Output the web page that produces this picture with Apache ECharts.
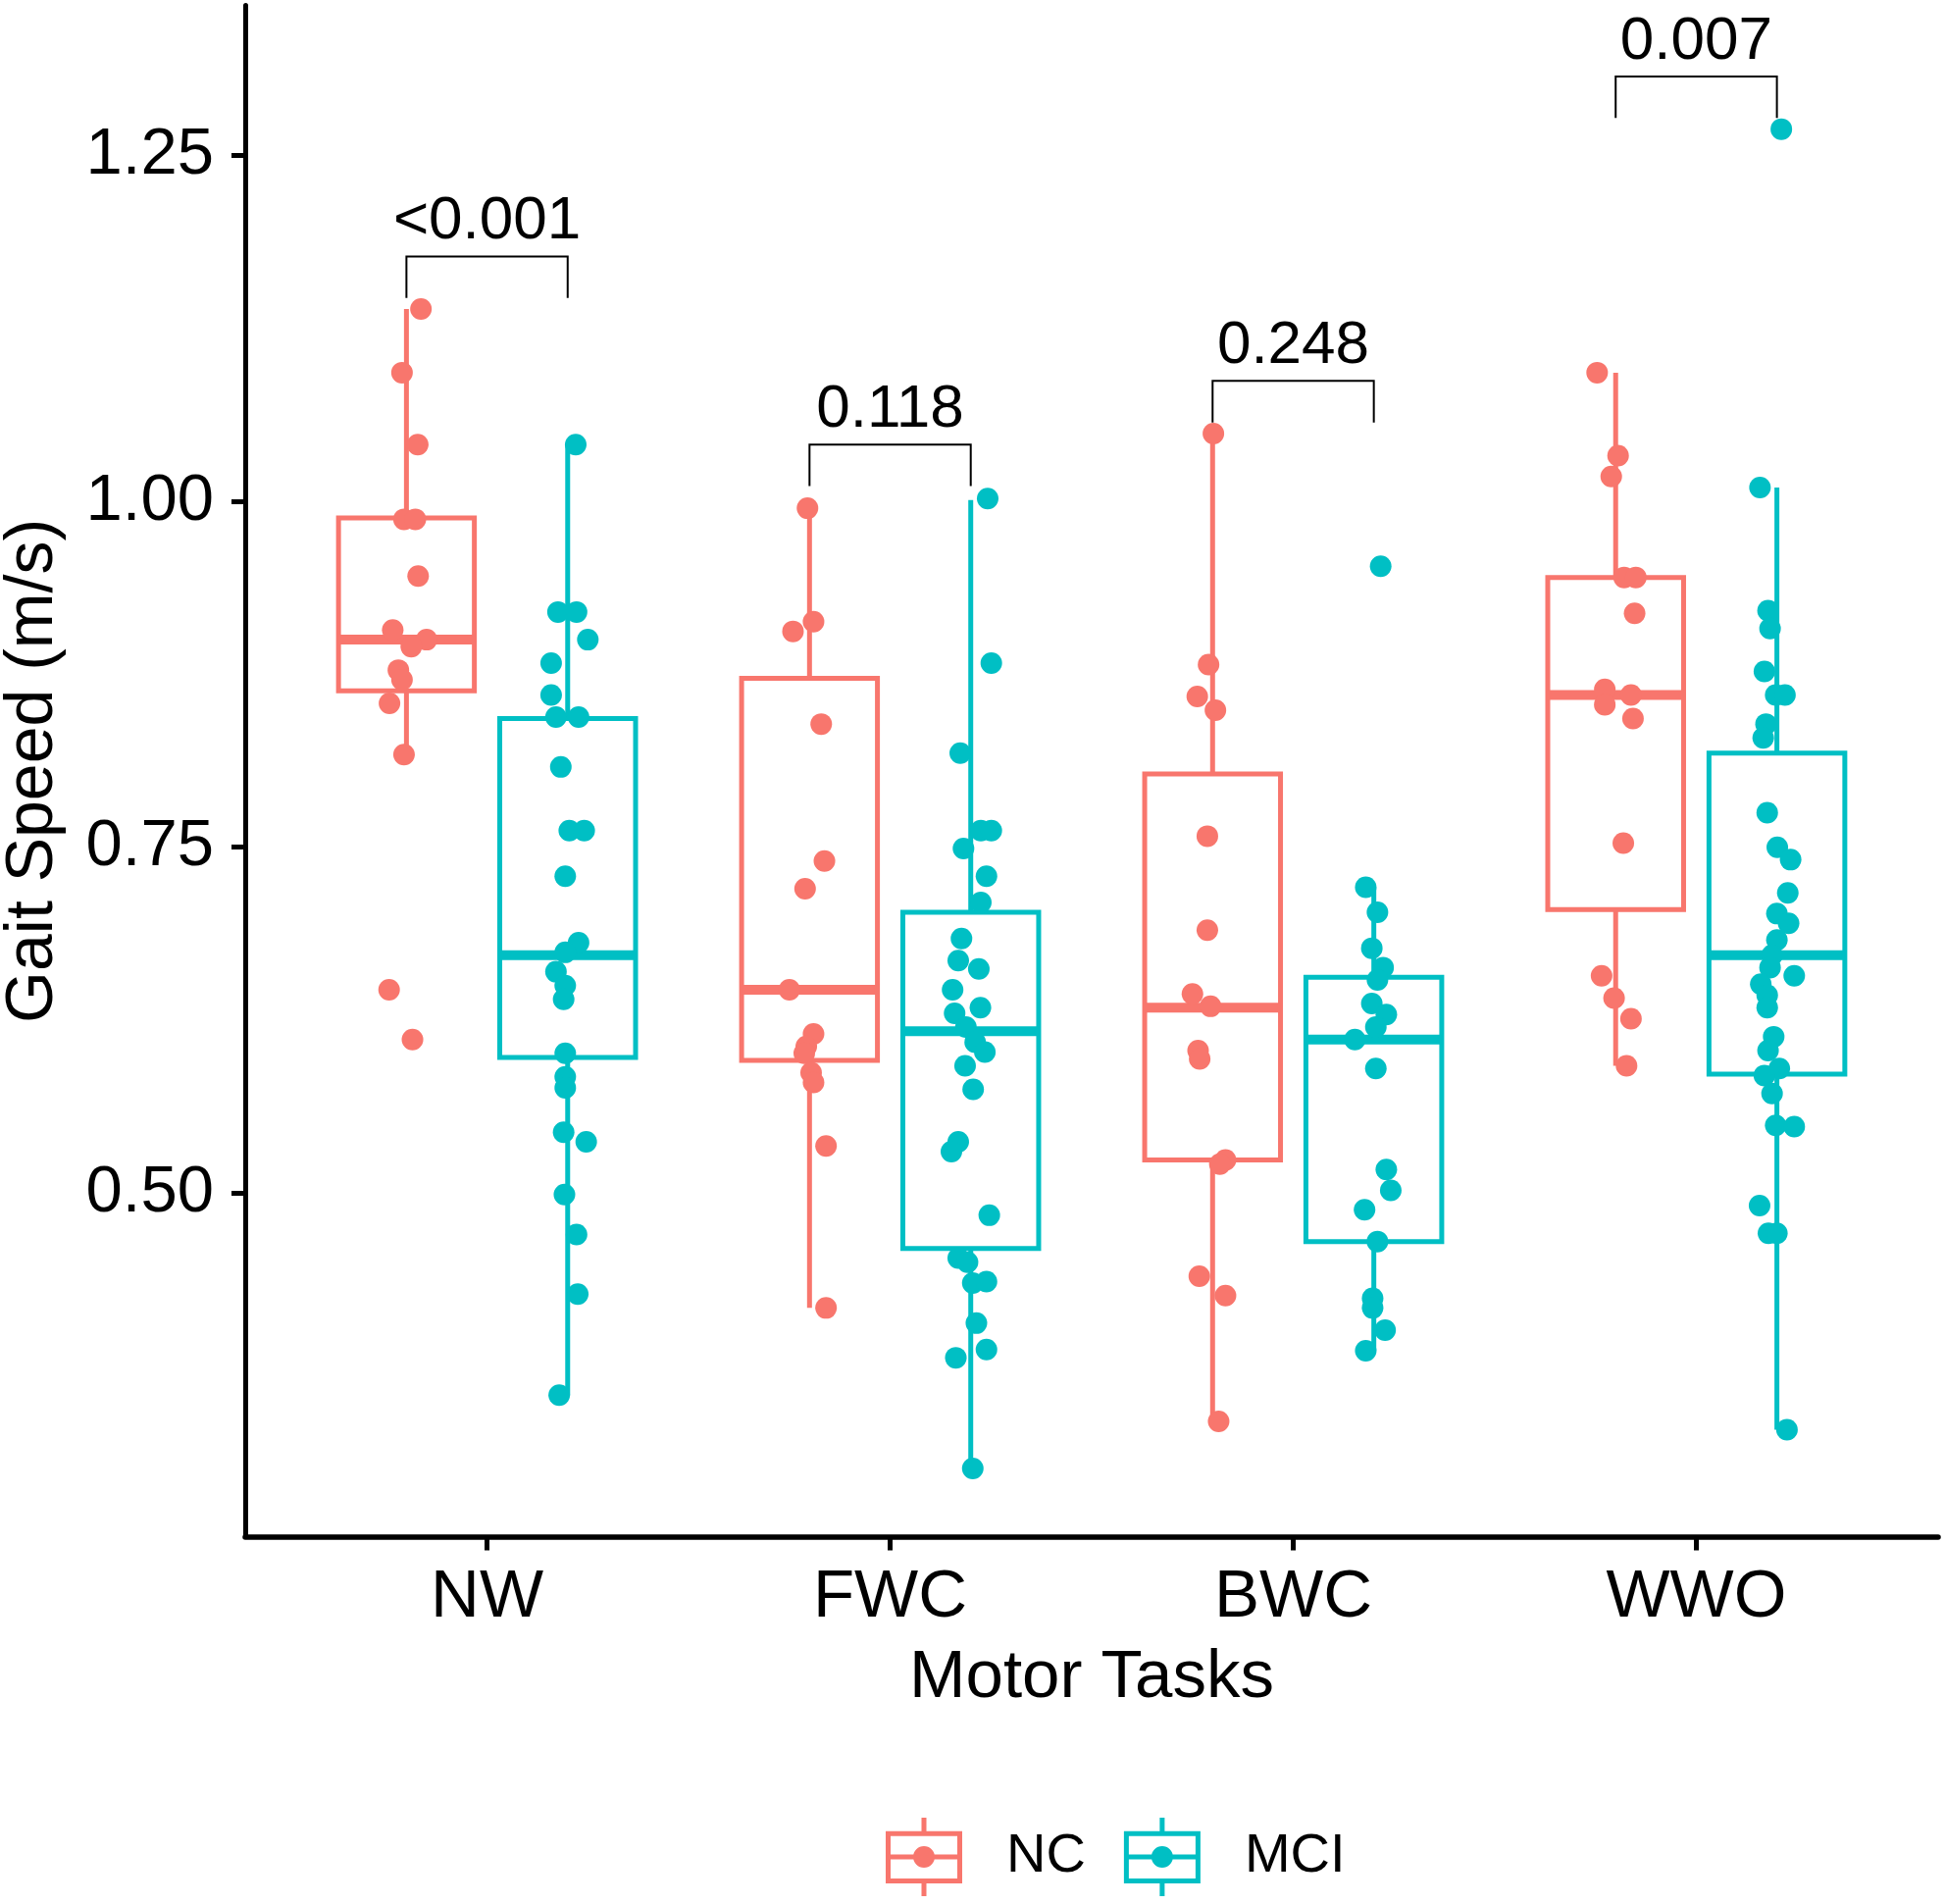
<!DOCTYPE html>
<html>
<head>
<meta charset="utf-8">
<title>Gait Speed by Motor Task</title>
<script src="https://cdn.jsdelivr.net/npm/echarts@6/dist/echarts.min.js"></script>
<style>
  html, body { margin: 0; padding: 0; background: #fff; }
  #main { width: 1983px; height: 1941px; }
</style>
</head>
<body>
<div id="main"></div>
<script>
// ---- data ----
const categories = ['NW', 'FWC', 'BWC', 'WWO'];
const groups = ['NC', 'MCI'];
const yTicks = [0.50, 0.75, 1.00, 1.25];

// box stats per task: [lower whisker, Q1, median, Q3, upper whisker]
const ncBoxes = [
  [0.817, 0.863, 0.900, 0.988, 1.139],
  [0.417, 0.596, 0.647, 0.872, 0.995],
  [0.335, 0.524, 0.634, 0.803, 1.049],
  [0.592, 0.705, 0.860, 0.945, 1.093]
];
const mciBoxes = [
  [0.354, 0.598, 0.672, 0.843, 1.042],
  [0.301, 0.460, 0.617, 0.703, 1.001],
  [0.386, 0.465, 0.611, 0.656, 0.721],
  [0.329, 0.586, 0.672, 0.818, 1.010]
];

// jittered points: [horizontal jitter, gait speed]
const ncNW = [[0.036,1.139],[-0.011,1.093],[0.028,1.041],[-0.006,0.987],[0.022,0.987],[0.029,0.946],[-0.034,0.907],[0.050,0.900],[0.012,0.895],[-0.020,0.878],[-0.011,0.871],[-0.042,0.854],[-0.006,0.817],[-0.043,0.647],[0.015,0.611]];
const mciNW = [[0.020,1.041],[-0.024,0.920],[0.022,0.920],[0.050,0.900],[-0.041,0.883],[-0.041,0.860],[-0.029,0.844],[0.027,0.844],[-0.017,0.808],[0.004,0.762],[0.041,0.762],[-0.006,0.729],[0.027,0.681],[-0.006,0.674],[-0.029,0.660],[-0.006,0.650],[-0.010,0.640],[-0.006,0.601],[-0.006,0.584],[-0.006,0.576],[-0.010,0.544],[0.046,0.537],[-0.008,0.499],[0.022,0.470],[0.025,0.427],[-0.021,0.354]];
const ncFWC = [[-0.005,0.995],[-0.041,0.906],[0.010,0.913],[0.029,0.839],[0.037,0.740],[-0.011,0.720],[-0.050,0.647],[0.010,0.615],[-0.008,0.606],[-0.013,0.601],[0.004,0.587],[0.010,0.580],[0.041,0.534],[0.041,0.417]];
const mciFWC = [[0.042,1.002],[0.051,0.883],[-0.026,0.818],[0.025,0.762],[0.051,0.762],[-0.018,0.749],[0.039,0.729],[0.025,0.710],[-0.023,0.684],[-0.031,0.668],[0.020,0.662],[-0.045,0.647],[0.024,0.634],[-0.040,0.630],[-0.012,0.620],[0.011,0.609],[0.035,0.602],[-0.014,0.592],[0.006,0.575],[-0.031,0.537],[-0.048,0.530],[0.046,0.484],[-0.031,0.453],[-0.008,0.450],[0.005,0.435],[0.039,0.436],[0.014,0.406],[-0.037,0.381],[0.039,0.387],[0.005,0.301]];
const ncBWC = [[0.002,1.049],[-0.010,0.882],[-0.038,0.859],[0.007,0.849],[-0.013,0.758],[-0.013,0.690],[-0.050,0.644],[-0.005,0.635],[-0.036,0.603],[-0.032,0.597],[0.032,0.524],[0.018,0.521],[-0.033,0.440],[0.032,0.426],[0.015,0.335]];
const mciBWC = [[0.017,0.953],[-0.020,0.721],[0.009,0.703],[-0.005,0.677],[0.023,0.663],[0.009,0.654],[-0.005,0.637],[0.031,0.629],[0.005,0.620],[-0.047,0.611],[0.005,0.590],[0.031,0.517],[0.042,0.502],[-0.023,0.488],[0.009,0.465],[-0.003,0.424],[-0.003,0.417],[0.028,0.401],[-0.020,0.386]];
const ncWWO = [[-0.046,1.093],[0.006,1.033],[-0.011,1.018],[0.021,0.945],[0.050,0.945],[0.047,0.919],[-0.027,0.864],[-0.027,0.853],[0.038,0.860],[0.043,0.843],[0.019,0.753],[-0.035,0.657],[-0.004,0.641],[0.038,0.626],[0.027,0.592]];
const mciWWO = [[0.011,1.269],[-0.042,1.010],[-0.022,0.921],[-0.017,0.908],[-0.031,0.877],[-0.003,0.860],[0.020,0.860],[-0.027,0.839],[-0.034,0.829],[-0.024,0.775],[0.001,0.750],[0.034,0.741],[0.027,0.717],[0.000,0.702],[0.029,0.695],[0.000,0.683],[-0.012,0.672],[0.043,0.657],[-0.017,0.663],[-0.040,0.651],[-0.024,0.643],[-0.024,0.634],[-0.008,0.613],[-0.022,0.603],[0.006,0.590],[-0.031,0.585],[-0.012,0.572],[-0.003,0.549],[0.043,0.548],[-0.043,0.491],[-0.021,0.471],[0.000,0.471],[0.025,0.329]];

// significance brackets
const pLabels = ['<0.001', '0.118', '0.248', '0.007'];
const bracketTop = [1.177, 1.041, 1.087, 1.307];
const bracketTip = [1.147, 1.011, 1.057, 1.277];

// ---- styling ----
const colors = { NC: '#F8766D', MCI: '#00BFC4' };
const dodge = { NC: -0.2, MCI: 0.2 };
const boxWidth = 0.337;
const font = '"Liberation Sans", Arial, sans-serif';

const legendIcon = 'path://M0,13.7L78,13.7L78,67L0,67Z M5,18.7L5,62L73,62L73,18.7Z ' +
  'M5,37.5L73,37.5L73,42.5L5,42.5Z M36.5,0L41.5,0L41.5,13.7L36.5,13.7Z ' +
  'M36.5,67L41.5,67L41.5,80L36.5,80Z M28,40A11,11,0,1,1,50,40A11,11,0,1,1,28,40Z';

function boxData(boxes, group) {
  return boxes.map((b, i) => [i + 1 + dodge[group]].concat(b));
}

function pointData(lists, group) {
  const out = [];
  lists.forEach((pts, i) => {
    pts.forEach(p => out.push([i + 1 + dodge[group] + p[0], p[1]]));
  });
  return out;
}

function renderBox(params, api) {
  const x = api.value(0);
  const lo = api.coord([x, api.value(1)]);
  const q1 = api.coord([x, api.value(2)]);
  const med = api.coord([x, api.value(3)]);
  const q3 = api.coord([x, api.value(4)]);
  const hi = api.coord([x, api.value(5)]);
  const half = api.size([boxWidth, 0])[0] / 2;
  const color = api.visual('color');
  const cx = q1[0];
  return {
    type: 'group',
    children: [
      { type: 'line', shape: { x1: cx, y1: q3[1], x2: cx, y2: hi[1] }, style: { stroke: color, lineWidth: 5 } },
      { type: 'line', shape: { x1: cx, y1: q1[1], x2: cx, y2: lo[1] }, style: { stroke: color, lineWidth: 5 } },
      { type: 'rect', shape: { x: cx - half, y: q3[1], width: half * 2, height: q1[1] - q3[1] },
        style: { fill: '#fff', stroke: color, lineWidth: 5 } },
      { type: 'line', shape: { x1: cx - half, y1: med[1], x2: cx + half, y2: med[1] },
        style: { stroke: color, lineWidth: 10 } }
    ]
  };
}

function renderBracket(params, api) {
  const x = api.value(0);
  const top = api.value(1), tip = api.value(2);
  const a = api.coord([x - 0.2, tip]);
  const b = api.coord([x - 0.2, top]);
  const c = api.coord([x + 0.2, top]);
  const d = api.coord([x + 0.2, tip]);
  return {
    type: 'group',
    children: [
      { type: 'polyline', shape: { points: [a, b, c, d] }, style: { stroke: '#000', lineWidth: 2, fill: null } },
      { type: 'text', x: (b[0] + c[0]) / 2, y: b[1] - 4,
        style: { text: pLabels[params.dataIndex], fontSize: 62, fontFamily: font, fill: '#000',
                 align: 'center', verticalAlign: 'bottom' } }
    ]
  };
}

const chart = echarts.init(document.getElementById('main'));
chart.setOption({
  animation: false,
  backgroundColor: '#fff',
  grid: { left: 250, right: 7, top: 5.4, bottom: 374.5, containLabel: false, outerBoundsMode: 'none' },
  legend: {
    data: groups.map(g => ({ name: g, icon: legendIcon })),
    left: 903,
    top: 1853,
    padding: 0,
    itemWidth: 78,
    itemHeight: 80,
    itemGap: 39,
    textStyle: { fontSize: 56, fontFamily: font, color: '#000', padding: [0, 0, 0, 40] }
  },
  xAxis: {
    type: 'value',
    min: 0.4,
    max: 4.6,
    name: 'Motor Tasks',
    nameLocation: 'middle',
    nameGap: 110,
    nameTextStyle: { fontSize: 69, fontFamily: font, color: '#000' },
    axisLine: { show: true, onZero: false, lineStyle: { color: '#000', width: 5.5 } },
    axisTick: { show: true, customValues: [1, 2, 3, 4], length: 14, lineStyle: { color: '#000', width: 5 } },
    axisLabel: {
      customValues: [1, 2, 3, 4],
      formatter: v => categories[Math.round(v) - 1],
      fontSize: 69, fontFamily: font, color: '#000', margin: 28
    },
    splitLine: { show: false }
  },
  yAxis: {
    type: 'value',
    min: 0.2517,
    max: 1.3585,
    name: 'Gait Speed (m/s)',
    nameLocation: 'middle',
    nameRotate: 90,
    nameGap: 182,
    nameTextStyle: { fontSize: 68, fontFamily: font, color: '#000' },
    axisLine: { show: true, lineStyle: { color: '#000', width: 5 } },
    axisTick: { show: true, customValues: yTicks, length: 14, lineStyle: { color: '#000', width: 5 } },
    axisLabel: {
      customValues: yTicks,
      formatter: v => v.toFixed(2),
      fontSize: 67, fontFamily: font, color: '#000', margin: 32
    },
    splitLine: { show: false }
  },
  series: [
    {
      name: 'NC box', type: 'custom', renderItem: renderBox,
      itemStyle: { color: colors.NC },
      encode: { x: 0, y: [1, 2, 3, 4, 5] },
      data: boxData(ncBoxes, 'NC')
    },
    {
      name: 'MCI box', type: 'custom', renderItem: renderBox,
      itemStyle: { color: colors.MCI },
      encode: { x: 0, y: [1, 2, 3, 4, 5] },
      data: boxData(mciBoxes, 'MCI')
    },
    {
      name: 'NC', type: 'scatter', symbol: 'circle', symbolSize: 22,
      itemStyle: { color: colors.NC, opacity: 1 },
      data: pointData([ncNW, ncFWC, ncBWC, ncWWO], 'NC')
    },
    {
      name: 'MCI', type: 'scatter', symbol: 'circle', symbolSize: 22,
      itemStyle: { color: colors.MCI, opacity: 1 },
      data: pointData([mciNW, mciFWC, mciBWC, mciWWO], 'MCI')
    },
    {
      name: 'p values', type: 'custom', renderItem: renderBracket,
      encode: { x: 0, y: [1, 2] },
      data: categories.map((c, i) => [i + 1, bracketTop[i], bracketTip[i]])
    }
  ]
});
</script>
</body>
</html>
